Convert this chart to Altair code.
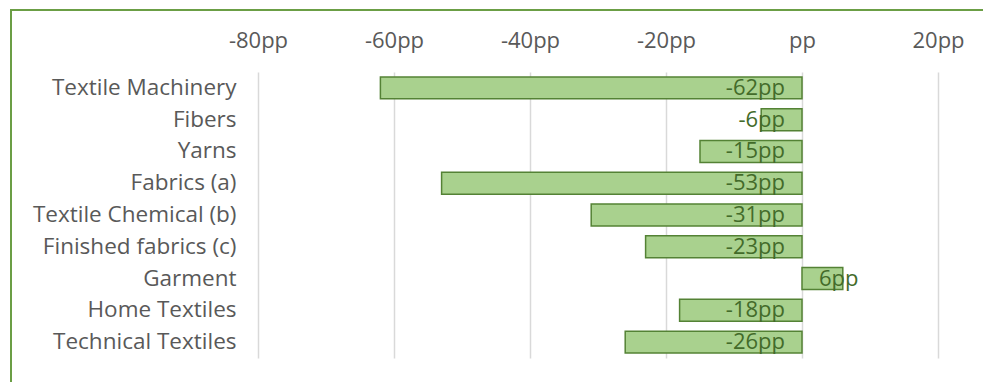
import altair as alt
import pandas as pd

categories = ["Textile Machinery", "Fibers", "Yarns", "Fabrics (a)", "Textile Chemical (b)",
              "Finished fabrics (c)", "Garment", "Home Textiles", "Technical Textiles"]
values = [-62, -6, -15, -53, -31, -23, 6, -18, -26]
x_ticks = [-80, -60, -40, -20, 0, 20]

df = pd.DataFrame({"category": categories, "value": values})
df["label"] = df["value"].astype(str) + "pp"
df["zero"] = 0

FONT = "Open Sans"
W, H = 680, 286

x_scale = alt.Scale(domain=[-80, 20], nice=False, zero=False)
y_scale = alt.Scale(paddingInner=0.31, paddingOuter=0.155)

base = alt.Chart(df)

bars = base.mark_bar(fill="#a9d18e", stroke="#548235", strokeWidth=1.5).encode(
    x=alt.X("value:Q", scale=x_scale,
            axis=alt.Axis(orient="top", values=x_ticks, title=None, domain=False, ticks=False,
                          labelExpr="datum.value == 0 ? 'pp' : datum.value + 'pp'",
                          labelFont=FONT, labelFontSize=22, labelColor="#595959",
                          labelFlush=False, labelOverlap=False,
                          labelPadding=20, grid=True, gridColor="#d9d9d9", gridWidth=1.5)),
    x2="zero:Q",
    y=alt.Y("category:N", sort=categories, scale=y_scale,
            axis=alt.Axis(title=None, domain=False, ticks=False, labelFont=FONT,
                          labelFontSize=22.5, labelColor="#595959", labelPadding=22,
                          labelLimit=400)),
)

neg_text = base.transform_filter("datum.value < 0").mark_text(
    align="right", baseline="middle", dx=-17, font=FONT, fontSize=22, color="#436b2a"
).encode(x=alt.X("zero:Q", scale=x_scale), y=alt.Y("category:N", sort=categories, scale=y_scale),
         text="label:N")

pos_text = base.transform_filter("datum.value >= 0").mark_text(
    align="left", baseline="middle", dx=17, font=FONT, fontSize=22, color="#436b2a"
).encode(x=alt.X("zero:Q", scale=x_scale), y=alt.Y("category:N", sort=categories, scale=y_scale),
         text="label:N")

frame = alt.Chart(pd.DataFrame({"a": [0]})).mark_rect(
    fill=None, stroke="#6b9e45", strokeWidth=2, clip=False
).encode(x=alt.value(-247), x2=alt.value(900), y=alt.value(-62), y2=alt.value(400))

chart = alt.layer(frame, bars, neg_text, pos_text).properties(
    width=W, height=H,
    background="white",
    autosize=alt.AutoSizeParams(type="none"),
    padding={"left": 258, "top": 72, "right": 45, "bottom": 24},
).configure_view(strokeWidth=0, stroke="transparent")

chart.save("out.html", embed_options={"renderer": "svg", "actions": False})
